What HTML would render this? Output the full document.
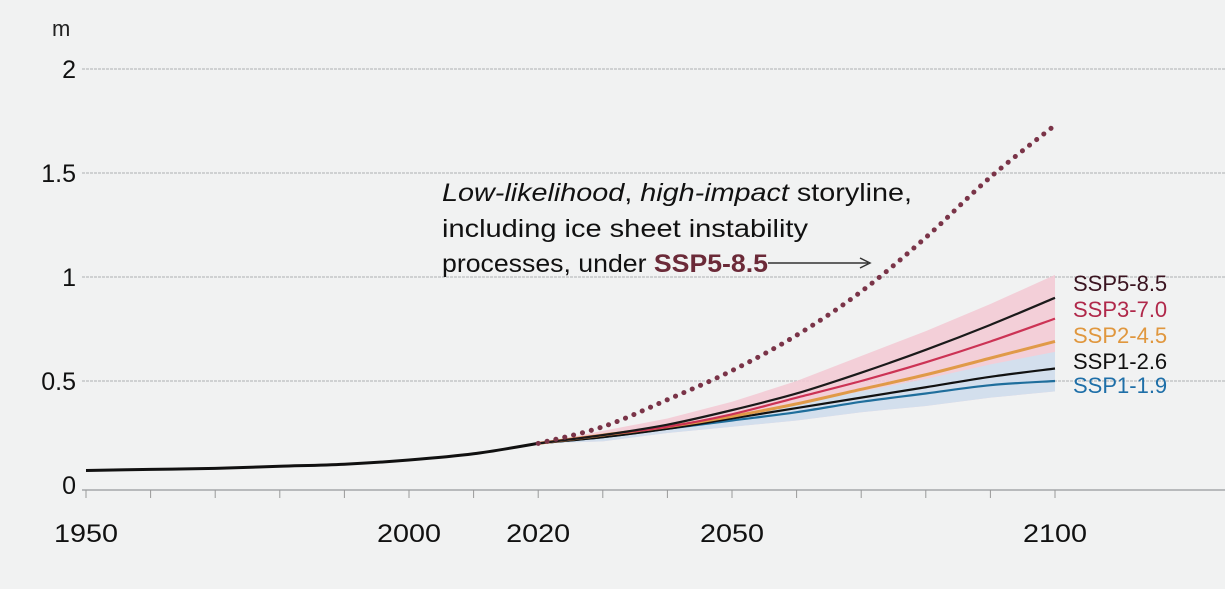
<!DOCTYPE html>
<html><head><meta charset="utf-8"><style>
body{margin:0;background:#f1f2f2;}
svg{display:block;font-family:"Liberation Sans",sans-serif;}
</style></head><body>
<svg id="c" width="1225" height="589">
<rect width="1225" height="589" fill="#f1f2f2"/>
<g id="grid"></g><g id="marks"></g><g id="labels"></g>
<text x="52" y="36" font-size="22" fill="#222">m</text>
<g font-size="25" fill="#111">
<text x="442" y="201" textLength="470" lengthAdjust="spacingAndGlyphs"><tspan font-style="italic">Low-likelihood</tspan>, <tspan font-style="italic">high-impact</tspan> storyline,</text>
<text x="442" y="237" textLength="366" lengthAdjust="spacingAndGlyphs">including ice sheet instability</text>
<text x="442" y="272" textLength="326" lengthAdjust="spacingAndGlyphs">processes, under <tspan fill="#6b2a38" font-weight="bold">SSP5-8.5</tspan></text>
<line x1="768" y1="263" x2="868" y2="263" stroke="#333" stroke-width="1.5"/>
<path d="M860 258 L870 263 L860 268" fill="none" stroke="#333" stroke-width="1.5"/>
</g>
</svg>
<script>
const years=[2020,2030,2040,2050,2060,2070,2080,2090,2100];
const histYears=[1950,1960,1970,1980,1990,2000,2010,2020];
const histVals=[0.07,0.075,0.08,0.09,0.10,0.12,0.15,0.20];
const ssp585=[0.20,0.24,0.29,0.36,0.44,0.54,0.65,0.77,0.90];
const ssp370=[0.20,0.24,0.28,0.34,0.42,0.50,0.59,0.69,0.80];
const ssp245=[0.20,0.24,0.28,0.33,0.39,0.46,0.53,0.61,0.69];
const ssp126=[0.20,0.23,0.27,0.32,0.37,0.42,0.47,0.52,0.56];
const ssp119=[0.20,0.23,0.27,0.31,0.35,0.40,0.44,0.48,0.50];
const bandHi=[0.20,0.26,0.32,0.40,0.50,0.62,0.74,0.87,1.01];
const bandLo=[0.20,0.21,0.25,0.28,0.31,0.35,0.38,0.42,0.45];
const blueHi=[0.20,0.23,0.28,0.33,0.39,0.45,0.51,0.58,0.64];
const storyline=[0.20,0.28,0.41,0.55,0.72,0.93,1.19,1.48,1.73];
const yTicks=[0,0.5,1,1.5,2];
const yTickLabels=["0","0.5","1","1.5","2"];
const xTicks=[1950,2000,2020,2050,2100];
const names=["SSP5-8.5","SSP3-7.0","SSP2-4.5","SSP1-2.6","SSP1-1.9"];
const NS="http://www.w3.org/2000/svg";
const X=y=>86+(y-1950)*(1055-86)/150;
const Y=v=>485-208*v;
function mk(t,a,p){const e=document.createElementNS(NS,t);for(const k in a)e.setAttribute(k,a[k]);p.appendChild(e);return e;}
function smooth(xs,vs){const p=xs.map((x,i)=>[X(x),Y(vs[i])]);let d='M'+p[0][0]+','+p[0][1];
 for(let i=0;i<p.length-1;i++){const p0=p[Math.max(0,i-1)],p1=p[i],p2=p[i+1],p3=p[Math.min(p.length-1,i+2)];
 d+=' C'+(p1[0]+(p2[0]-p0[0])/6)+','+(p1[1]+(p2[1]-p0[1])/6)+' '+(p2[0]-(p3[0]-p1[0])/6)+','+(p2[1]-(p3[1]-p1[1])/6)+' '+p2[0]+','+p2[1];}
 return d;}
const grid=document.getElementById('grid'),marks=document.getElementById('marks'),labels=document.getElementById('labels');
yTicks.forEach((v,i)=>{
 if(v>0){const l=mk('line',{x1:82,x2:1225,y1:Y(v),y2:Y(v),stroke:'#c4c6c8','stroke-width':1.5,'stroke-dasharray':'3 1'},grid);
 
 }
 const t=mk('text',{x:76,y:Y(v)+9,'text-anchor':'end','font-size':25,fill:'#111'},labels);t.textContent=yTickLabels[i];
 
 
});
const ax=mk('line',{x1:82,x2:1225,y1:490,y2:490,stroke:'#b8babc','stroke-width':2},grid);


for(let y=1950;y<=2100;y+=10){const tk=mk('line',{x1:X(y),x2:X(y),y1:490,y2:498,stroke:'#999','stroke-width':1},grid);
 
 }
xTicks.forEach(y=>{const t=mk('text',{x:X(y),y:542,'text-anchor':'middle','font-size':25,fill:'#111',textLength:64,lengthAdjust:'spacingAndGlyphs'},labels);t.textContent=y;
 
 });
const pts=(xs,vs)=>xs.map((x,i)=>X(x)+','+Y(vs[i])).join(' ');
const band=mk('polygon',{points:pts(years,bandHi)+' '+pts(years.slice().reverse(),bandLo.slice().reverse()),fill:'#f3c9d3',opacity:0.85},marks);


const bb=mk('polygon',{points:pts(years,blueHi)+' '+pts(years.slice().reverse(),bandLo.slice().reverse()),fill:'#cfe0ef',opacity:0.9},marks);


const hist=mk('path',{d:smooth(histYears,histVals),fill:'none',stroke:'#111','stroke-width':3},marks);


const series=[ssp119,ssp126,ssp245,ssp370,ssp585];
const cols=['#1f6e9c','#111','#e09a48','#cc3355','#1a1a1a'];
const snames=['ssp119-line','ssp126-line','ssp245-line','ssp370-line','ssp585-line'];
series.forEach((s,i)=>{const l=mk('path',{d:smooth(years,s),fill:'none',stroke:cols[i],'stroke-width':i==2?3:2.2},marks);
 
 });
const st=mk('path',{d:smooth(years,storyline),fill:'none',stroke:'#7a3448','stroke-width':5,'stroke-dasharray':'0.1 9','stroke-linecap':'round'},marks);


const lcols=['#3a1420','#b0284a','#e0973e','#111','#1e6fa8'];
const ly=[291,317,343,369,393];
names.forEach((n,i)=>{const t=mk('text',{x:1073,y:ly[i],'font-size':22,fill:lcols[i]},labels);t.textContent=n;
 
 });
</script>
</body></html>
